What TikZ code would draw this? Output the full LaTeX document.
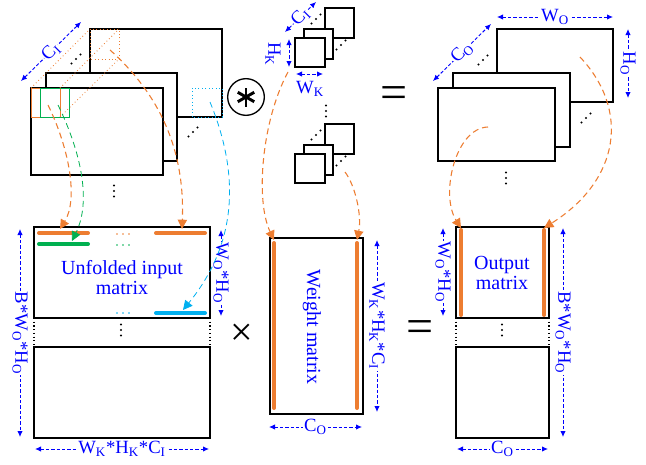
\documentclass[tikz,border=0pt]{standalone}
\usepackage{fontspec}
\setmainfont{Liberation Serif}
\usepackage{xcolor}
\usepackage{amsmath}
\usepackage{tikz}
\usetikzlibrary{arrows.meta}
\definecolor{orng}{RGB}{237,125,49}
\definecolor{grn}{RGB}{0,176,80}
\definecolor{cyn}{RGB}{0,176,240}
\newcommand{\lo}[1]{\textsubscript{#1}}

\begin{document}
\begin{tikzpicture}[x=0.75pt, y=-0.75pt,
  map/.style={draw, line width=1.1pt, fill=white},
  dim/.style={blue, line width=0.7pt, dash pattern=on 2.5pt off 1.5pt, {Latex[length=4.5pt,width=4pt]}-{Latex[length=4.5pt,width=4pt]}},
  dimtext/.style={text=blue, fill=white, inner sep=0.6pt, font=\fontsize{14}{14}\selectfont},
  flow/.style={line width=0.8pt, dash pattern=on 4.5pt off 3pt, -{Triangle[length=7pt,width=7pt]}},
  bar/.style={line width=3pt, line cap=round},
  title/.style={text=blue, align=center, font=\fontsize{15}{15}\selectfont}]
\useasboundingbox (0,0) rectangle (646,464);

% input feature maps
\draw[map] (90,29) rectangle (222,117);
\draw[orng, dotted, semithick] (90,29) rectangle (119,59);
\draw[cyn, dotted, semithick] (192,88) rectangle (222,117);
\draw[map] (46,73) rectangle (177,161);
\draw[map] (31,88) rectangle (163,175);
\draw[orng, semithick] (31,88) rectangle (60,117);
\draw[grn, semithick] (40,88) rectangle (69,117);
\foreach \a/\b in {31/90, 60/119} \draw[orng, dotted, semithick] (\a,88) -- (\b,29);
\draw[orng, dotted, semithick] (60,117) -- (119,59);

% kernels
\foreach \dy in {0,116} {
  \draw[map] (325,8+\dy) rectangle (354,38+\dy);
  \draw[map] (304,29+\dy) rectangle (333,59+\dy);
  \draw[map] (295,38+\dy) rectangle (325,67+\dy);
}

% output feature maps
\draw[map] (497,29) rectangle (613,102);
\draw[map] (453,73) rectangle (570,147);
\draw[map] (438,88) rectangle (555,161);

% matrices
\draw[line width=1.1pt] (34,227) rectangle (210,318) (34,347) rectangle (210,438);
\draw[line width=1.1pt] (270,238) rectangle (363,414);
\draw[line width=1.1pt] (456,227) rectangle (549,318) (456,347) rectangle (549,438);
\foreach \x in {34,210,456,549} \draw[dotted, thick] (\x,318) -- (\x,347);
\draw[bar, orng] (39,233) -- (88,233) (156,233) -- (205,233);
\draw[bar, grn] (39,244) -- (88,244);
\draw[bar, cyn] (156,313) -- (205,313);
\draw[bar, orng] (274,243) -- (274,408) (357,243) -- (357,408);
\draw[bar, orng] (461,230) -- (461,315) (544,230) -- (544,315);

% dots
\foreach \x/\y in {76/59, 193/132, 316/19, 341/45, 316/135, 341/161, 483/60, 586/118}
  \foreach \k in {-1,0,1} \fill (\x+4.5*\k,\y-4.5*\k) circle (1.2);
\foreach \x/\y in {114/191, 326/111, 506/178, 121/330, 502/330}
  \foreach \k in {-1,0,1} \fill (\x,\y+5.5*\k) circle (1.2);
\foreach \c/\y in {orng/234, grn/245, cyn/313}
  \foreach \x in {117,123,129} \fill[\c] (\x,\y) circle (0.8);

% labels and operators
\node[title] (Unfold) at (122,278) {Unfolded input\\matrix};
\node[title, rotate=-90] (Weight) at (312,327) {Weight matrix};
\node[title] (Output) at (502,273) {Output\\matrix};
\node[draw, circle, line width=1pt, minimum size=27.5pt, inner sep=0pt] (Conv) at (246,97) {};
\foreach \a in {30,90,150} \draw[line width=2.2pt] (Conv.center) ++(\a:9.5) -- ++(\a+180:19);
\node[font=\fontsize{36}{36}\selectfont] (EqTop) at (394,98) {=};
\node[font=\fontsize{30}{30}\selectfont] (Mult) at (242,335) {×};
\node[font=\fontsize{36}{36}\selectfont] (EqBot) at (420,332) {=};

% dimension arrows
\coordinate (CiA) at (21,81);   \coordinate (CiB) at (81,22);
\coordinate (KciA) at (285,32); \coordinate (KciB) at (316,2);
\coordinate (HkA) at (289,39);  \coordinate (HkB) at (289,67);
\coordinate (WkA) at (296,74);  \coordinate (WkB) at (323,74);
\coordinate (WoA) at (497,17);  \coordinate (WoB) at (613,17);
\coordinate (HoA) at (628,29);  \coordinate (HoB) at (628,98);
\coordinate (CoA) at (433,81);  \coordinate (CoB) at (491,24);
\coordinate (UnRA) at (221,230); \coordinate (UnRB) at (221,316);
\coordinate (UnLA) at (20,229);  \coordinate (UnLB) at (20,437);
\coordinate (UnBA) at (35,449);  \coordinate (UnBB) at (209,449);
\coordinate (WtRA) at (377,240); \coordinate (WtRB) at (377,412);
\coordinate (WtBA) at (269,427); \coordinate (WtBB) at (362,427);
\coordinate (OuLA) at (443,228); \coordinate (OuLB) at (443,316);
\coordinate (OuRA) at (563,228); \coordinate (OuRB) at (563,437);
\coordinate (OuBA) at (457,449); \coordinate (OuBB) at (548,449);
\draw[dim] (CiA) -- node[dimtext, rotate=45] {C\lo{I}} (CiB);
\draw[dim] (KciA) -- node[dimtext, rotate=45] {C\lo{I}} (KciB);
\draw[dim] (HkA) -- (HkB);  \node[dimtext, rotate=-90] (HkLabel) at (273,54) {H\lo{K}};
\draw[dim] (WkA) -- (WkB);  \node[dimtext] (WkLabel) at (310,89) {W\lo{K}};
\draw[dim] (WoA) -- node[dimtext] {W\lo{O}} (WoB);
\draw[dim] (HoA) -- node[dimtext, rotate=-90] {H\lo{O}} (HoB);
\draw[dim] (CoA) -- node[dimtext, rotate=45] {C\lo{O}} (CoB);
\draw[dim] (UnRA) -- node[dimtext, rotate=-90] {W\lo{O}*H\lo{O}} (UnRB);
\draw[dim] (UnLA) -- node[dimtext, rotate=-90] {B*W\lo{O}*H\lo{O}} (UnLB);
\draw[dim] (UnBA) -- node[dimtext] {W\lo{K}*H\lo{K}*C\lo{I}} (UnBB);
\draw[dim] (WtRA) -- node[dimtext, rotate=-90] {W\lo{K}*H\lo{K}*C\lo{I}} (WtRB);
\draw[dim] (WtBA) -- node[dimtext] {C\lo{O}} (WtBB);
\draw[dim] (OuLA) -- node[dimtext, rotate=-90] {W\lo{O}*H\lo{O}} (OuLB);
\draw[dim] (OuRA) -- node[dimtext, rotate=-90] {B*W\lo{O}*H\lo{O}} (OuRB);
\draw[dim] (OuBA) -- node[dimtext] {C\lo{O}} (OuBB);

% flows from maps to matrices
\coordinate (SrcOrA) at (48,105);  \coordinate (DstOrA) at (60,229);
\coordinate (SrcGr) at (58,105);   \coordinate (DstGr) at (72,241);
\coordinate (SrcOrB) at (110,50);  \coordinate (DstOrB) at (182,229);
\coordinate (SrcCy) at (210,102);  \coordinate (DstCy) at (183,310);
\coordinate (SrcKa) at (288,72);   \coordinate (DstKa) at (274,240);
\coordinate (SrcKb) at (345,172);  \coordinate (DstKb) at (357,240);
\coordinate (SrcOa) at (488,127);  \coordinate (DstOa) at (461,228);
\coordinate (SrcOb) at (580,57);   \coordinate (DstOb) at (544,228);
\draw[flow, orng] (SrcOrA) .. controls (70,150) and (78,200) .. (DstOrA);
\draw[flow, grn, line width=0.6pt] (SrcGr) .. controls (80,150) and (92,200) .. (DstGr);
\draw[flow, orng] (SrcOrB) .. controls (160,95) and (185,150) .. (DstOrB);
\draw[flow, cyn, line width=0.6pt] (SrcCy) .. controls (238,170) and (240,240) .. (DstCy);
\draw[flow, orng] (SrcKa) .. controls (262,120) and (255,200) .. (DstKa);
\draw[flow, orng] (SrcKb) .. controls (355,185) and (362,215) .. (DstKb);
\draw[flow, orng] (SrcOa) .. controls (455,128) and (440,195) .. (DstOa);
\draw[flow, orng] (SrcOb) .. controls (630,110) and (620,180) .. (DstOb);
\end{tikzpicture}
\end{document}
